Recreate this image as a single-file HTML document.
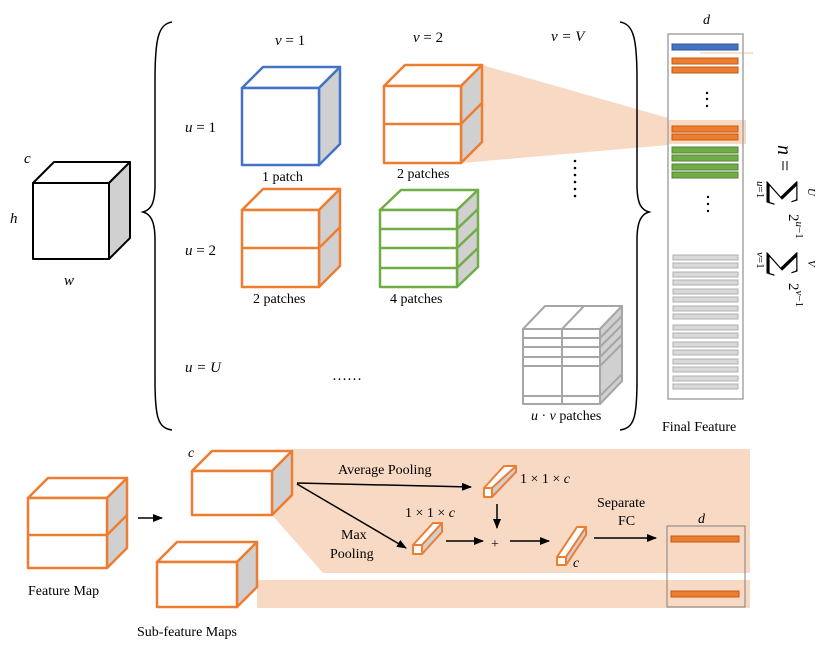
<!DOCTYPE html>
<html><head><meta charset="utf-8"><style>
html,body{margin:0;padding:0;background:#fff}
svg{display:block}
text{font-family:"Liberation Serif",serif;fill:#000}
.i{font-style:italic}
</style></head><body>
<svg width="831" height="648" viewBox="0 0 831 648" xmlns="http://www.w3.org/2000/svg">
<defs>
<marker id="ar" markerWidth="10" markerHeight="8" refX="9" refY="4" orient="auto" markerUnits="userSpaceOnUse"><path d="M0,0 L10,4 L0,8 z" fill="#000"/></marker>
</defs>
<polygon points="292,449 750,449 750,573 323,573 272,515" fill="#f8d9c3"/>
<rect x="257" y="580" width="493" height="28" fill="#f8d9c3"/>
<polygon points="482,65 668,118 668,145 462,163" fill="#f8d9c3"/>
<rect x="668" y="120" width="78" height="24" fill="#f8d9c3"/>
<line x1="700" y1="53" x2="753" y2="53" stroke="#f8d9c3" stroke-width="1.5"/>

<path d="M172,22 C158,24 155,40 155,80 L155,185 C155,205 150,210 143,212 C150,214 155,220 155,240 L155,380 C155,418 158,428 172,430" fill="none" stroke="#000" stroke-width="1.5"/>
<path d="M620,22 C634,24 637,40 637,80 L637,185 C637,205 642,210 649,212 C642,214 637,220 637,240 L637,380 C637,418 634,428 620,430" fill="none" stroke="#000" stroke-width="1.5"/>

<g stroke="#000" stroke-width="2" stroke-linejoin="round">
<polygon points="33,183 54,162 130,162 109,183" fill="#fff"/>
<polygon points="109,183 130,162 130,238 109,259" fill="#d0d0d0"/>
<rect x="33" y="183" width="76" height="76" fill="#fff"/>
</g>
<text x="24" y="163" class="i" font-size="15">c</text>
<text x="10" y="223" class="i" font-size="15">h</text>
<text x="64" y="285" class="i" font-size="15">w</text>

<g font-size="15">
<text x="275" y="45" class="i">v <tspan font-style="normal">= 1</tspan></text>
<text x="413" y="42" class="i">v <tspan font-style="normal">= 2</tspan></text>
<text x="551" y="41" class="i">v = V</text>
<text x="185" y="132" class="i">u <tspan font-style="normal">= 1</tspan></text>
<text x="185" y="255" class="i">u <tspan font-style="normal">= 2</tspan></text>
<text x="185" y="372" class="i">u = U</text>
</g>

<g stroke="#4472c4" stroke-width="2.5" stroke-linejoin="round">
<polygon points="242,88 263,67 340,67 319,88" fill="#fff"/>
<polygon points="319,88 340,67 340,144 319,165" fill="#d0d0d0"/>
<rect x="242" y="88" width="77" height="77" fill="#fff"/>
</g>
<text x="262" y="181" font-size="14">1 patch</text>

<g stroke="#ed7d31" stroke-width="2.5" stroke-linejoin="round">
<polygon points="384,86 405,65 482,65 461,86" fill="#fff"/>
<polygon points="461,86 482,65 482,142 461,163" fill="#d0d0d0"/>
<rect x="384" y="86" width="77" height="77" fill="#fff"/>
<line x1="384" y1="124" x2="461" y2="124"/><line x1="461" y1="124" x2="482" y2="103"/>
</g>
<text x="397" y="178" font-size="14">2 patches</text>

<g stroke="#ed7d31" stroke-width="2.5" stroke-linejoin="round">
<polygon points="242,210 263,189 340,189 319,210" fill="#fff"/>
<polygon points="319,210 340,189 340,266 319,287" fill="#d0d0d0"/>
<rect x="242" y="210" width="77" height="77" fill="#fff"/>
<line x1="242" y1="248" x2="319" y2="248"/><line x1="319" y1="248" x2="340" y2="227"/>
</g>
<text x="253" y="303" font-size="14">2 patches</text>

<g stroke="#70ad47" stroke-width="2.5" stroke-linejoin="round">
<polygon points="380,210 401,190 478,190 457,210" fill="#fff"/>
<polygon points="457,210 478,190 478,267 457,287" fill="#d0d0d0"/>
<rect x="380" y="210" width="77" height="77" fill="#fff"/>
<line x1="380" y1="229" x2="457" y2="229"/><line x1="457" y1="229" x2="478" y2="209"/>
<line x1="380" y1="248" x2="457" y2="248"/><line x1="457" y1="248" x2="478" y2="228"/>
<line x1="380" y1="268" x2="457" y2="268"/><line x1="457" y1="268" x2="478" y2="248"/>
</g>
<text x="390" y="303" font-size="14">4 patches</text>

<text x="332" y="380" font-size="15">……</text>
<g fill="#000"><circle cx="575" cy="161" r="1.3"/><circle cx="575" cy="168" r="1.3"/><circle cx="575" cy="175" r="1.3"/><circle cx="575" cy="182" r="1.3"/><circle cx="575" cy="189" r="1.3"/><circle cx="575" cy="196" r="1.3"/></g>

<g stroke="#a6a6a6" stroke-width="2" stroke-linejoin="round">
<polygon points="523,329 545,306 622,306 600,329" fill="#fff"/>
<line x1="562" y1="329" x2="584" y2="306"/>
<polygon points="600,329 622,306 622,381 600,404" fill="#d0d0d0"/>
<rect x="523" y="329" width="77" height="75" fill="#fff"/>
<line x1="562" y1="329" x2="562" y2="404"/>
<line x1="523" y1="338" x2="600" y2="338"/><line x1="523" y1="347" x2="600" y2="347"/>
<line x1="523" y1="357" x2="600" y2="357"/><line x1="523" y1="366" x2="600" y2="366"/>
<line x1="523" y1="396" x2="600" y2="396"/>
<line x1="600" y1="338" x2="622" y2="316"/><line x1="600" y1="347" x2="622" y2="325"/>
<line x1="600" y1="357" x2="622" y2="335"/><line x1="600" y1="366" x2="622" y2="344"/>
<line x1="600" y1="396" x2="622" y2="374"/>
</g>
<text x="531" y="420" font-size="14"><tspan class="i">u</tspan> · <tspan class="i">v</tspan> patches</text>

<text x="703" y="24" class="i" font-size="14">d</text>
<rect x="668" y="34" width="75" height="365" fill="none" stroke="#a6a6a6" stroke-width="1.5"/>
<rect x="672" y="44" width="66" height="6" fill="#4472c4" stroke="#2f5597"/>
<g fill="#ed7d31" stroke="#c55a11">
<rect x="672" y="58" width="66" height="6"/><rect x="672" y="67" width="66" height="6"/>
<rect x="672" y="126" width="66" height="6"/><rect x="672" y="134" width="66" height="6"/>
</g>
<g fill="#70ad47" stroke="#548235">
<rect x="672" y="147" width="66" height="6"/><rect x="672" y="155" width="66" height="6"/>
<rect x="672" y="164" width="66" height="6"/><rect x="672" y="172" width="66" height="6"/>
</g>
<g fill="#000"><circle cx="707" cy="93" r="1.2"/><circle cx="707" cy="99" r="1.2"/><circle cx="707" cy="106" r="1.2"/>
<circle cx="708" cy="197" r="1.2"/><circle cx="708" cy="204" r="1.2"/><circle cx="708" cy="211" r="1.2"/></g>
<g fill="#d9d9d9" stroke="#b0b0b0">
<rect x="673" y="255" width="65" height="5"/><rect x="673" y="263" width="65" height="5"/><rect x="673" y="272" width="65" height="5"/><rect x="673" y="280" width="65" height="5"/>
<rect x="673" y="289" width="65" height="5"/><rect x="673" y="297" width="65" height="5"/><rect x="673" y="306" width="65" height="5"/><rect x="673" y="314" width="65" height="5"/>
<rect x="673" y="325" width="65" height="5"/><rect x="673" y="333" width="65" height="5"/><rect x="673" y="342" width="65" height="5"/><rect x="673" y="350" width="65" height="5"/>
<rect x="673" y="359" width="65" height="5"/><rect x="673" y="367" width="65" height="5"/><rect x="673" y="376" width="65" height="5"/><rect x="673" y="384" width="65" height="5"/>
</g>
<text x="662" y="431" font-size="14">Final Feature</text>

<g transform="translate(778,0) rotate(90)">
<text x="145" y="0" class="i" font-size="20">n <tspan font-style="normal">=</tspan></text>
<text x="181" y="5" font-size="34" style="font-family:'DejaVu Serif',serif">∑</text>
<text x="181" y="21" font-size="11"><tspan class="i">u</tspan>=1</text>
<text x="188" y="-30" class="i" font-size="11">U</text>
<text x="214" y="-11" font-size="15">2<tspan class="i" font-size="11" dy="-7">u</tspan><tspan font-size="11">−1</tspan></text>
<text x="252" y="5" font-size="34" style="font-family:'DejaVu Serif',serif">∑</text>
<text x="252" y="21" font-size="11"><tspan class="i">v</tspan>=1</text>
<text x="260" y="-30" class="i" font-size="11">V</text>
<text x="283" y="-11" font-size="15">2<tspan class="i" font-size="11" dy="-7">v</tspan><tspan font-size="11">−1</tspan></text>
</g>

<g stroke="#ed7d31" stroke-width="2.5" stroke-linejoin="round">
<polygon points="28,498 48,478 127,478 107,498" fill="#fff"/>
<polygon points="107,498 127,478 127,548 107,568" fill="#d0d0d0"/>
<rect x="28" y="498" width="79" height="70" fill="#fff"/>
<line x1="28" y1="535" x2="107" y2="535"/><line x1="107" y1="535" x2="127" y2="515"/>
</g>
<text x="28" y="595" font-size="14">Feature Map</text>
<line x1="138" y1="518" x2="162" y2="518" stroke="#000" stroke-width="1.5" marker-end="url(#ar)"/>

<g stroke="#ed7d31" stroke-width="2.5" stroke-linejoin="round">
<polygon points="192,471 212,451 292,451 272,471" fill="#fff"/>
<polygon points="272,471 292,451 292,495 272,515" fill="#d0d0d0"/>
<rect x="192" y="471" width="80" height="44" fill="#fff"/>
<polygon points="157,562 177,542 257,542 237,562" fill="#fff"/>
<polygon points="237,562 257,542 257,587 237,607" fill="#d0d0d0"/>
<rect x="157" y="562" width="80" height="45" fill="#fff"/>
</g>
<text x="188" y="457" class="i" font-size="14">c</text>
<text x="137" y="636" font-size="14">Sub-feature Maps</text>

<g stroke="#000" stroke-width="1.5" fill="none">
<line x1="297" y1="483" x2="471" y2="487" marker-end="url(#ar)"/>
<line x1="297" y1="484" x2="406" y2="548" marker-end="url(#ar)"/>
<line x1="446" y1="541" x2="483" y2="541" marker-end="url(#ar)"/>
<line x1="510" y1="541" x2="549" y2="541" marker-end="url(#ar)"/>
<line x1="497" y1="504" x2="497" y2="528" marker-end="url(#ar)"/>
<line x1="594" y1="538" x2="656" y2="538" marker-end="url(#ar)"/>
</g>
<text x="338" y="474" font-size="14">Average Pooling</text>
<text x="341" y="539" font-size="14">Max</text>
<text x="330" y="558" font-size="14">Pooling</text>
<text x="491" y="548" font-size="14">+</text>
<text x="520" y="483" font-size="14">1 × 1 × <tspan class="i">c</tspan></text>
<text x="405" y="517" font-size="14">1 × 1 × <tspan class="i">c</tspan></text>
<text x="573" y="567" class="i" font-size="14">c</text>
<text x="597" y="507" font-size="14">Separate</text>
<text x="618" y="525" font-size="14">FC</text>

<g stroke="#ed7d31" stroke-width="2" stroke-linejoin="round">
<polygon points="484,488 504,466 516,466 496,488" fill="#fff"/>
<polygon points="484,488 492,488 492,497 484,497" fill="#fff"/>
<polygon points="492,497 516,472 516,466 492,488" fill="#d0d0d0"/>
<polygon points="413,545 433,523 442,523 422,545" fill="#fff"/>
<polygon points="413,545 422,545 422,554 413,554" fill="#fff"/>
<polygon points="422,554 442,532 442,523 422,545" fill="#d0d0d0"/>
<polygon points="557,557 577,527 586,527 566,557" fill="#fff"/>
<polygon points="557,557 566,557 566,565 557,565" fill="#fff"/>
<polygon points="566,565 586,535 586,527 566,557" fill="#d0d0d0"/>
</g>

<text x="698" y="523" class="i" font-size="14">d</text>
<rect x="667" y="526" width="78" height="81" fill="none" stroke="#808080" stroke-width="1"/>
<rect x="671" y="536" width="68" height="6" fill="#ed7d31" stroke="#c55a11"/>
<rect x="671" y="591" width="68" height="6" fill="#ed7d31" stroke="#c55a11"/>
</svg>
</body></html>
